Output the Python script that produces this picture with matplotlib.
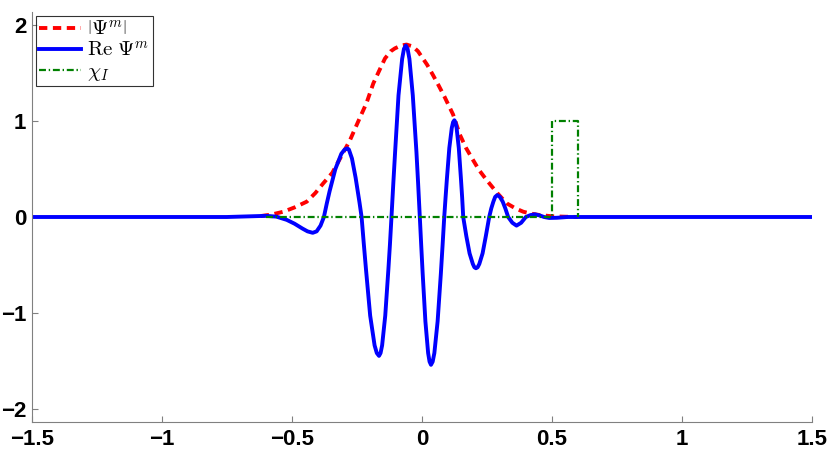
import numpy as np
import matplotlib.pyplot as plt

plt.rcParams['mathtext.fontset'] = 'cm'
plt.rcParams['lines.scale_dashes'] = False

# |Psi^m| envelope
env_x = [-0.62, -0.58, -0.533, -0.49, -0.443, -0.41, -0.38, -0.345, -0.315, -0.277,
         -0.238, -0.213, -0.187, -0.162, -0.142, -0.12, -0.104, -0.08, -0.059, -0.035,
         -0.015, 0.0, 0.02, 0.043, 0.065, 0.088, 0.12, 0.146, 0.17, 0.197,
         0.22, 0.249, 0.29, 0.326, 0.36, 0.39, 0.42, 0.454, 0.5, 0.55, 0.6]
env_y = [0.01, 0.025, 0.055, 0.10, 0.16, 0.25, 0.35, 0.46, 0.61, 0.80,
         1.04, 1.19, 1.394, 1.54, 1.655, 1.73, 1.76, 1.79, 1.80, 1.78,
         1.73, 1.67, 1.59, 1.48, 1.37, 1.25, 1.07, 0.86, 0.72, 0.594,
         0.49, 0.386, 0.25, 0.143, 0.09, 0.055, 0.035, 0.02, 0.008, 0.003, 0.0]

# Re Psi^m
re_x = [-1.5, -0.75, -0.65, -0.60, -0.56, -0.52, -0.49, -0.46, -0.44, -0.42, -0.405, -0.39, -0.377,
        -0.366, -0.355, -0.333, -0.31, -0.297, -0.287, -0.281, -0.269, -0.255, -0.24, -0.232,
        -0.2235, -0.215, -0.199, -0.182, -0.1735, -0.165, -0.159, -0.153, -0.141, -0.129, -0.123, -0.117,
        -0.110, -0.103, -0.090, -0.076, -0.069, -0.062, -0.055, -0.048, -0.035, -0.021, -0.0145, -0.008,
        -0.0025, 0.003, 0.0135, 0.024, 0.0295, 0.035, 0.0415, 0.048, 0.0605, 0.073, 0.0795, 0.086,
        0.091, 0.096, 0.1055, 0.115, 0.120, 0.125, 0.129, 0.1335, 0.142, 0.1505, 0.155, 0.159,
        0.165, 0.171, 0.1835, 0.196, 0.202, 0.208, 0.2145, 0.221, 0.2335, 0.246, 0.2525, 0.259,
        0.267, 0.275, 0.282, 0.29, 0.30, 0.311, 0.321, 0.332,
        0.348, 0.364, 0.382, 0.40, 0.418, 0.435, 0.455, 0.47, 0.49, 0.52, 0.56, 1.5]
re_y = [0, 0, 0.008, 0.012, 0.004, -0.03, -0.07, -0.12, -0.15, -0.165, -0.15, -0.09, 0,
        0.14, 0.27, 0.50, 0.66, 0.705, 0.716, 0.705, 0.61, 0.41, 0.15, 0,
        -0.28, -0.55, -1.03, -1.34, -1.42, -1.45, -1.42, -1.34, -1.03, -0.55, -0.29, 0,
        0.35, 0.68, 1.27, 1.65, 1.755, 1.79, 1.755, 1.65, 1.27, 0.68, 0.35, 0,
        -0.30, -0.59, -1.09, -1.42, -1.51, -1.543, -1.51, -1.42, -1.09, -0.59, -0.30, 0,
        0.20, 0.39, 0.72, 0.93, 0.99, 1.01, 0.99, 0.93, 0.72, 0.39, 0.20, 0,
        -0.10, -0.20, -0.38, -0.49, -0.525, -0.535, -0.525, -0.49, -0.38, -0.20, -0.10, 0,
        0.09, 0.16, 0.21, 0.229, 0.21, 0.16, 0.09, 0,
        -0.06, -0.09, -0.06, 0, 0.02, 0.028, 0.015, 0, -0.01, -0.008, 0, 0]

# indicator chi_I
chi_x = [-0.6, 0.5, 0.5, 0.6, 0.6]
chi_y = [0, 0, 1, 1, 0]

xticks = [-1.5, -1, -0.5, 0, 0.5, 1, 1.5]
yticks = [-2, -1, 0, 1, 2]

fig = plt.figure(figsize=(8.3, 4.51), dpi=100)
ax = fig.add_axes([0.0386, 0.0643, 0.9394, 0.9091])

ax.plot(env_x, env_y, color='red', lw=2.8, linestyle=(0, (6, 4)), label=r'$\left|\Psi^m\right|$')
ax.plot(re_x, re_y, color='blue', lw=2.8, label=r'$\mathrm{Re}\ \Psi^m$')
ax.plot(chi_x, chi_y, color=(0, 0.5, 0), lw=1.6, linestyle=(0, (5, 2, 1, 2)), label=r'$\chi_I$')

ax.set_xlim(-1.5, 1.5)
ax.set_ylim(-2.14, 2.14)
ax.set_xticks(xticks)
ax.set_yticks(yticks)
ax.set_xticklabels([('\u2212' if t < 0 else '') + ('%g' % abs(t)) for t in xticks])
ax.set_yticklabels([('\u2212' if t < 0 else '') + ('%g' % abs(t)) for t in yticks])
for lab in ax.get_xticklabels() + ax.get_yticklabels():
    lab.set_family('Liberation Sans')
    lab.set_fontweight('bold')
    lab.set_fontsize(16)

ax.spines['top'].set_visible(False)
ax.spines['right'].set_visible(False)
for s in ['left', 'bottom']:
    ax.spines[s].set_color('#808080')
    ax.spines[s].set_linewidth(0.8)
ax.tick_params(direction='in', length=4, color='#808080', width=0.8)
ax.tick_params(axis='x', pad=5)
ax.tick_params(axis='y', pad=4)

leg = ax.legend(loc='upper left', fontsize=15, frameon=True, fancybox=False,
                edgecolor='black', handlelength=2.0, handletextpad=0.3,
                borderaxespad=0.2, borderpad=0.15, labelspacing=0.05)
leg.get_frame().set_linewidth(0.8)

fig.savefig('out.png', dpi=100)
